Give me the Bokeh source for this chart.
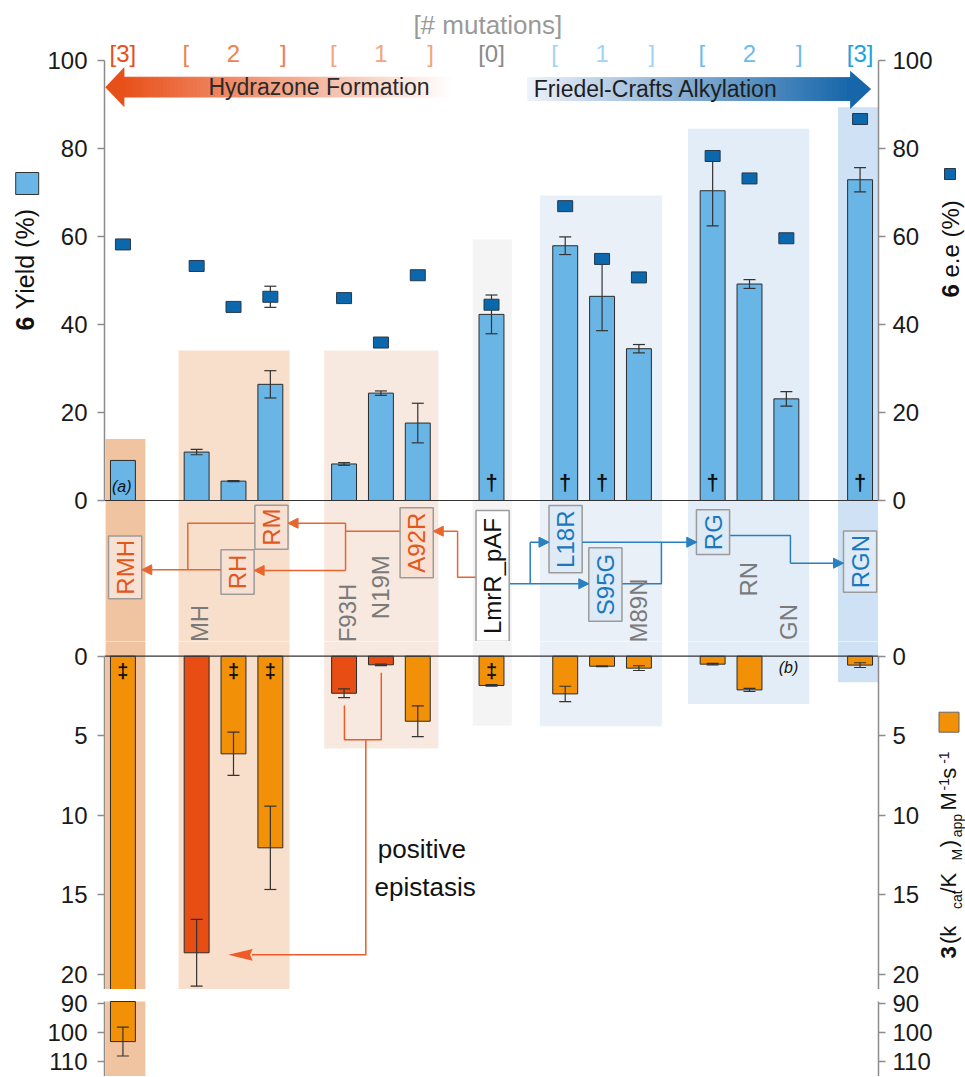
import math
import numpy as np
from bokeh.plotting import figure
from bokeh.models import Range1d, LinearAxis, FixedTicker, Span, Arrow, NormalHead
from bokeh.layouts import column, row
from bokeh.embed import file_html
from bokeh.resources import INLINE
from bokeh.core.properties import value

# ---------------- data ----------------
groups = [["RMH"], ["MH", "RH", "RM"], ["F93H", "N19M", "A92R"], ["LmrR_pAF"],
          ["L18R", "S95G", "M89N"], ["RG", "RN", "GN"], ["RGN"]]
group_mutations = ["3", "2", "1", "0", "1", "2", "3"]
variants = [v for g in groups for v in g]

yield_pct = [9.1, 11.0, 4.4, 26.4, 8.3, 24.4, 17.6, 42.3, 57.9, 46.4, 34.5, 70.4, 49.2, 23.1, 72.9]
yield_err = [0.0, 0.6, 0.1, 3.1, 0.3, 0.5, 4.5, 4.4, 2.0, 7.8, 0.95, 8.0, 1.0, 1.65, 2.75]
ee_pct = [58.2, 53.3, 44.0, 46.3, 46.0, 35.9, 51.2, 44.5, 66.9, 54.9, 50.7, 78.3, 73.2, 59.6, 86.7]
ee_err = [0, 0, 0, 2.4, 0, 0, 0, 0, 0, 0, 0, 0, 0, 0, 0]
kcat = [103.1, 18.65, 6.14, 12.05, 2.33, 0.54, 4.09, 1.84, 2.37, 0.63, 0.75, 0.5, 2.12, float("nan"), 0.56]
kcat_err = [5.0, 2.1, 1.36, 2.62, 0.28, 0.05, 0.97, 0.05, 0.48, 0.03, 0.15, 0.05, 0.1, 0.0, 0.15]
kcat_highlight = ["MH", "F93H", "N19M"]
dagger_yield = ["LmrR_pAF", "L18R", "S95G", "RG", "RGN"]
ddagger_kcat = ["RMH", "RH", "RM", "LmrR_pAF"]
yield_ticks = [0, 20, 40, 60, 80, 100]
kcat_ticks = [0, 5, 10, 15, 20]
kcat_break_ticks = [90, 100, 110]

# ---------------- layout helpers ----------------
FONT = "Liberation Sans"
AX = "#8c8c8c"
xpos = {}
group_span = []
s = 0
for g in groups:
    st = s
    for v in g:
        xpos[v] = s
        s += 1
    group_span.append((st, s - 1))
    s += 1
X = [xpos[v] for v in variants]
BW = 0.676
LB, RB = 59, 55          # border widths of the main panels
LW, RW = 44, 30          # widths of the side title strips
BREAK_START = 89.2       # where the broken kcat axis resumes


def make_fig(h, yr):
    p = figure(width=LB + 777 + RB, height=h, x_range=Range1d(-0.5, 20.5), y_range=yr,
               x_axis_location=None, y_axis_location=None,
               output_backend="svg", toolbar_location=None,
               min_border_left=LB, min_border_right=RB, min_border_top=0, min_border_bottom=0)
    p.grid.visible = False
    p.outline_line_color = None
    return p


def strip(w, x0):
    p = figure(width=w, height=1076, x_range=Range1d(x0, x0 + w), y_range=Range1d(1076, 0),
               x_axis_location=None, y_axis_location=None,
               output_backend="svg", toolbar_location=None, min_border=0)
    p.grid.visible = False
    p.outline_line_color = None
    return p


def style_axis(ax, ticks, bounds, standoff):
    ax.ticker = FixedTicker(ticks=ticks)
    ax.bounds = bounds
    ax.axis_line_color = AX
    ax.axis_line_width = 1.5
    ax.major_tick_line_color = AX
    ax.major_tick_line_width = 1.5
    ax.major_tick_out = 7
    ax.major_tick_in = 0
    ax.minor_tick_line_color = None
    ax.major_label_text_font = FONT
    ax.major_label_text_font_size = "24px"
    ax.major_label_text_color = "#1a1a1a"
    ax.major_label_standoff = standoff


def add_axes(p, ticks, bounds, y_range_name="default"):
    for side, sd in (("left", 10), ("right", 7)):
        ax = LinearAxis(y_range_name=y_range_name if side == "right" else "default")
        style_axis(ax, ticks, bounds, sd)
        p.add_layout(ax, side)


def errbars(p, xs, ys, es, **kw):
    sel = [(x, y, e) for x, y, e in zip(xs, ys, es) if e and e > 0 and y == y]
    x2 = [a for a, _, _ in sel]
    lo = [y - e for _, y, e in sel]
    hi = [y + e for _, y, e in sel]
    p.segment(x2, lo, x2, hi, line_color="#333333", line_width=1.2, **kw)
    p.scatter(x2, hi, marker="dash", size=12, line_color="#333333", line_width=1.2, **kw)
    p.scatter(x2, lo, marker="dash", size=12, line_color="#333333", line_width=1.2, **kw)


def txt(p, x, y, t, size="24px", color="#111111", angle=0, style="normal",
        align="center", baseline="middle"):
    p.text(x=x, y=y, text=t, text_font=value(FONT), text_font_size=size, text_color=color,
           angle=angle, text_align=align, text_baseline=baseline, text_font_style=style)


def mix(c0, c1, t):
    a = [int(c0[i:i + 2], 16) for i in (1, 3, 5)]
    b = [int(c1[i:i + 2], 16) for i in (1, 3, 5)]
    return "#%02x%02x%02x" % tuple(round(u + (w - u) * t) for u, w in zip(a, b))


def grad_arrow(p, x0, x1, yb, yt, c0, c1, head):
    n = 90
    e = np.linspace(x0, x1, n + 1)
    cols = [mix(c0, c1, (i + 0.5) / n) for i in range(n)]
    p.quad(left=e[:-1], right=e[1:], bottom=yb, top=yt, fill_color=cols,
           line_color=cols, line_width=1)
    hx, hy, hc = head
    p.patch(hx, hy, fill_color=hc, line_color=None)


# background panels: left, right, top (yield units), bottom (kcat units), colour
bg = [(-0.47, 0.61, 14.0, 40.0, "#f0c4a1"),
      (1.51, 4.52, 34.1, 21.1, "#f8dfcc"),
      (5.46, 8.56, 34.1, 5.8, "#f7e9e0"),
      (9.49, 10.55, 59.3, 4.36, "#f4f4f4"),
      (11.31, 14.63, 69.3, 4.4, "#eaf0f8"),
      (15.33, 18.62, 84.5, 3.0, "#e3edf8"),
      (19.4, 20.49, 89.4, 1.63, "#cfe2f5")]

# ================= top panel (yield / ee) =================
top = make_fig(641, Range1d(-32.05, 113.64))
top.extra_y_ranges = {"ee": Range1d(-32.05, 113.64)}
add_axes(top, yield_ticks, (0, 100), y_range_name="ee")

top.quad(left=[b[0] for b in bg], right=[b[1] for b in bg], top=[b[2] for b in bg],
         bottom=-40, fill_color=[b[4] for b in bg], line_color=None)

# header: mutation counts
mut_cols = ["#e84e1b", "#f08050", "#f4a47c", "#8a8a8a", "#a3d3f2", "#6bbbe9", "#1ba1e2"]
txt(top, [9.9], [108.0], ["[# mutations]"], size="26px", color="#999999")
for (a, b), m, c in zip(group_span, group_mutations, mut_cols):
    if a == b:
        txt(top, [a], [101.7], ["[" + m + "]"], color=c)
    else:
        txt(top, [a - 0.29, (a + b) / 2, b + 0.35], [101.7] * 3, ["[", m, "]"], color=c)

# direction arrows
grad_arrow(top, 0.03, 8.95, 91.7, 96.2, "#e8501a", "#ffffff",
           ([-0.48, 0.04, 0.04], [93.95, 98.5, 89.4], "#e8501a"))
txt(top, [5.32], [93.9], ["Hydrazone Formation"], size="23px", color="#2a2a2a")
grad_arrow(top, 10.98, 19.74, 90.9, 96.1, "#eff2fa", "#1766aa",
           ([19.73, 20.3, 19.73], [97.7, 93.55, 89.0], "#1766aa"))
txt(top, [14.46], [93.6], ["Friedel-Crafts Alkylation"], size="23px", color="#1e1e1e")

# yield bars, errors, ee markers
top.vbar(x=X, top=yield_pct, bottom=0, width=BW, fill_color="#69b6e6",
         line_color="#2b2b2b", line_width=1)
errbars(top, X, yield_pct, yield_err)
errbars(top, X, ee_pct, ee_err, y_range_name="ee")
top.rect(x=X, y=ee_pct, width=15, height=11, width_units="screen", height_units="screen",
         fill_color="#0b68ad", line_color="#26384a", line_width=1, y_range_name="ee")
txt(top, [xpos[v] for v in dagger_yield], [4.2] * len(dagger_yield), ["\u2020"] * len(dagger_yield),
    size="22px", style="bold")
txt(top, [-0.03], [3.2], ["(a)"], size="16px", style="italic")
top.add_layout(Span(location=0, dimension="width", line_color="#333333", line_width=1.2))

# mutation map (middle strip)
OR, BL, GR = "#e2581c", "#1b78bf", "#7a7a7a"
boxed = {"RMH": (0.06, -15.2, 14.3, OR, "#f8e1d2"), "RM": (4.03, -6.07, 10.0, OR, "#f8e1d2"),
         "RH": (3.11, -16.25, 10.1, OR, "#f8e1d2"), "A92R": (7.97, -9.6, 15.9, OR, "#f8e1d2"),
         "LmrR_pAF": (10.03, -17.16, 29.8, "#111111", "#ffffff"),
         "L18R": (12.01, -8.8, 15.3, BL, "#deeaf6"), "S95G": (13.09, -19.1, 16.7, BL, "#deeaf6"),
         "RG": (16.01, -7.2, 10.2, BL, "#deeaf6"), "RGN": (20.0, -13.9, 13.9, BL, "#deeaf6")}
plain = {"MH": (2.09, -27.95), "F93H": (6.08, -25.57), "N19M": (6.98, -19.7),
         "M89N": (14.0, -25.0), "RN": (16.98, -17.9), "GN": (18.06, -27.6)}

OL, BLL = "#e8662e", "#2a7fc0"
top.multi_line(xs=[[9.58, 9.08, 9.08], [7.52, 6.04], [6.04, 6.04], [3.58, 1.76, 1.76]],
               ys=[[-17.43, -17.43, -6.98], [-6.98, -6.98], [-5.16, -15.9], [-5.16, -5.16, -15.75]],
               line_color=OL, line_width=1.5)
top.multi_line(xs=[[10.48, 11.05, 11.05], [13.53, 14.61, 14.61], [16.45, 18.11, 18.11]],
               ys=[[-18.93, -18.93, -9.48], [-18.93, -18.93, -9.48], [-7.95, -7.95, -14.25]],
               line_color=BLL, line_width=1.5)
arrows = [((9.08, -6.98), (8.42, -6.98), OL), ((6.04, -5.16), (4.48, -5.16), OL),
          ((6.04, -15.9), (3.56, -15.9), OL), ((2.66, -15.75), (0.51, -15.75), OL),
          ((11.05, -9.48), (11.56, -9.48), BLL), ((11.05, -18.93), (12.64, -18.93), BLL),
          ((12.46, -9.48), (15.57, -9.48), BLL), ((18.11, -14.25), (19.55, -14.25), BLL)]
for (xa, ya), (xb, yb), c in arrows:
    top.add_layout(Arrow(end=NormalHead(size=10, fill_color=c, line_color=c),
                         x_start=xa, y_start=ya, x_end=xb, y_end=yb,
                         line_color=c, line_width=1.5))

bx = list(boxed)
top.rect(x=[boxed[k][0] for k in bx], y=[boxed[k][1] for k in bx], width=0.9,
         height=[boxed[k][2] for k in bx], fill_color=[boxed[k][4] for k in bx],
         line_color="#9b9b9b", line_width=1.5)
top.text(x=[boxed[k][0] for k in bx], y=[boxed[k][1] for k in bx], text=bx,
         text_color=[boxed[k][3] for k in bx], angle=math.pi / 2, text_font=value(FONT),
         text_font_size="24px", text_align="center", text_baseline="middle")
pl = list(plain)
txt(top, [plain[k][0] for k in pl], [plain[k][1] for k in pl], pl, color=GR, angle=math.pi / 2)

# ================= bottom panel (kcat/KM) =================
bot = make_fig(348, Range1d(20.96, -0.925))
add_axes(bot, kcat_ticks, (0, 20.96))

bot.quad(left=[b[0] for b in bg], right=[b[1] for b in bg], top=-1.5,
         bottom=[b[3] for b in bg], fill_color=[b[4] for b in bg], line_color=None)
kcols = ["#e84e14" if v in kcat_highlight else "#f29108" for v in variants]
bot.vbar(x=X, top=kcat, bottom=0, width=BW, fill_color=kcols, line_color="#2b2b2b", line_width=1)
errbars(bot, X[1:], kcat[1:], kcat_err[1:])
txt(bot, [xpos[v] for v in ddagger_kcat], [0.9] * len(ddagger_kcat), ["\u2021"] * len(ddagger_kcat),
    size="20px", style="bold")
txt(bot, [18.06], [0.73], ["(b)"], size="16px", style="italic")
bot.add_layout(Span(location=0, dimension="width", line_color="#333333", line_width=1.2))

EP = "#ef5a28"
bot.multi_line(xs=[[6.01, 6.01, 7.01, 7.01], [6.59, 6.59, 3.5]],
               ys=[[3.10, 5.26, 5.26, 1.04], [5.26, 18.78, 18.78]],
               line_color=EP, line_width=1.5)
bot.patch([2.86, 3.52, 3.45, 3.52], [18.78, 18.41, 18.78, 19.15], fill_color=EP, line_color=None)
txt(bot, [8.11], [12.11], ["positive"], size="26px")
txt(bot, [8.2], [14.53], ["epistasis"], size="26px")

# ================= broken axis part =================
brk = make_fig(87, Range1d(115.2, 85.04))
add_axes(brk, kcat_break_ticks, (BREAK_START, 115.2))
brk.quad(left=[bg[0][0]], right=[bg[0][1]], top=BREAK_START, bottom=120, fill_color=bg[0][4],
         line_color=None)
brk.vbar(x=X[:1], top=kcat[:1], bottom=BREAK_START, width=BW, fill_color=kcols[:1],
         line_color="#2b2b2b", line_width=1)
errbars(brk, X[:1], kcat[:1], kcat_err[:1])

# ================= axis titles (side strips, page-pixel coordinates) =================
left = strip(LW, 0)
left.rect(x=[26.7], y=[183], width=23, height=22, fill_color="#69b6e6", line_color="#333333", line_width=1)
txt(left, [24], [330], ["6"], size="25px", angle=math.pi / 2, style="bold", align="left")
txt(left, [24], [309], ["Yield (%)"], size="25px", angle=math.pi / 2, align="left")

x0r = LW + LB + 777 + RB
right = strip(RW, x0r)
right.rect(x=[949.5], y=[173.5], width=11, height=11, fill_color="#0b68ad", line_color="#26384a", line_width=1)
txt(right, [950], [297], ["6"], size="24px", angle=math.pi / 2, style="bold", align="left")
txt(right, [950], [277], ["e.e (%)"], size="24px", angle=math.pi / 2, align="left")

right.rect(x=[948.5], y=[721.7], width=20, height=20, fill_color="#f29108", line_color="#666666", line_width=1)
kx = 948
pieces = [  # text, start y, x offset, size, style
    ("3", 958, 0, "22px", "bold"), ("(k", 943.5, 0, "22px", "normal"),
    ("cat", 908.5, 8, "14px", "normal"), ("/K", 893, 0, "22px", "normal"),
    ("M", 860, 8, "14px", "normal"), (")", 846.7, 0, "22px", "normal"),
    ("app", 836.7, 8, "14px", "normal"), ("M", 810, 0, "22px", "normal"),
    ("-1", 790, -5, "14px", "normal"), ("s", 778.3, 0, "22px", "normal"),
    ("-1", 763.3, -5, "14px", "normal")]
for t, yy, dx, sz, st in pieces:
    txt(right, [kx + dx], [yy], [t], size=sz, angle=math.pi / 2, style=st, align="left")

layout = row(left, column(top, bot, brk, spacing=0), right, spacing=0)
open("out.html", "w").write(file_html(layout, INLINE, title="LmrR_pAF variants"))
